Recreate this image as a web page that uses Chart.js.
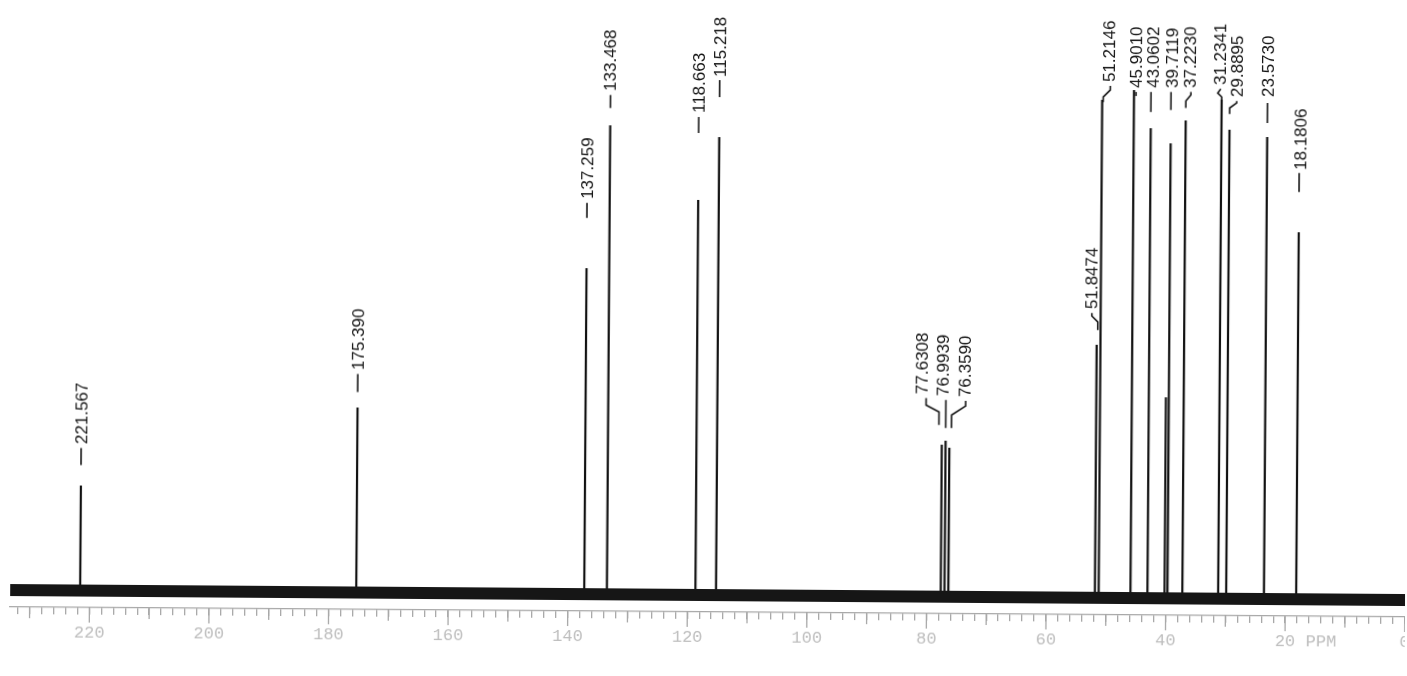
<!DOCTYPE html>
<html>
<head>
<meta charset="utf-8">
<script src="https://cdn.jsdelivr.net/npm/chart.js@4.4.0/dist/chart.umd.min.js"></script>
<style>
    html, body { margin: 0; padding: 0; background: #fff; overflow: hidden; }
    /* the scanned sheet sits slightly skewed, right side lower */
    #sheet { width: 1407px; height: 676px; transform: rotate(0.41deg); }
</style>
</head>
<body>
<div id="sheet"><canvas id="spectrum" width="1407" height="676"></canvas></div>
<script>
(function () {
    // --- Data (13C spectrum, ppm / peak height) ---
    const shiftsPpm = [221.567, 175.390, 137.259, 133.468, 118.663, 115.218,
        77.6308, 76.9939, 76.3590, 51.8474, 51.2146, 45.9010, 43.0602, 40.20,
        39.7119, 37.2230, 31.2341, 29.8895, 23.5730, 18.1806];
    const intensities = [105, 185, 326, 469, 395, 458,
        152, 156, 149, 253, 498, 508, 470, 201,
        455, 478, 499, 469, 462, 367];
    const peakLabels = ['221.567', '175.390', '137.259', '133.468', '118.663', '115.218',
        '77.6308', '76.9939', '76.3590', '51.8474', '51.2146', '45.9010', '43.0602', '',
        '39.7119', '37.2230', '31.2341', '29.8895', '23.5730', '18.1806'];
    const axisLabels = [0, 20, 40, 60, 80, 100, 120, 140, 160, 180, 200, 220];
    const AXIS_MIN = -0.05;
    const AXIS_MAX = 233.27;

    // --- Label layout: text centre offset, text bottom y, leader polyline [dx, y] ---
    const labelLayout = [
        { dx: 0, bottom: 444, leader: [[0, 448], [0, 465]] },
        { dx: 0, bottom: 370, leader: [[0, 374], [0, 392]] },
        { dx: 0, bottom: 199, leader: [[0, 203], [0, 218]] },
        { dx: 0, bottom: 91, leader: [[0, 95], [0, 108]] },
        { dx: 0, bottom: 113, leader: [[0, 117], [0, 133]] },
        { dx: 0, bottom: 77, leader: [[0, 80], [0, 97]] },
        { dx: -20, bottom: 394, leader: [[-16, 398], [-16, 405], [-3, 412], [-3, 425]] },
        { dx: -3, bottom: 396, leader: [[0, 400], [0, 428]] },
        { dx: 15, bottom: 397, leader: [[16, 401], [16, 406], [2, 415], [2, 428]] },
        { dx: -5, bottom: 309, leader: [[-5, 313], [-5, 316], [1, 322], [1, 330]] },
        { dx: 7, bottom: 82, leader: [[8, 86], [8, 90], [1, 97], [1, 102]] },
        { dx: 2, bottom: 88, leader: [[2, 92], [2, 96]] },
        { dx: 2, bottom: 88, leader: [[0, 92], [0, 112]] },
        null,
        { dx: 1, bottom: 88, leader: [[0, 92], [0, 110]] },
        { dx: 4, bottom: 88, leader: [[5, 92], [5, 95], [0, 101], [0, 108]] },
        { dx: -2, bottom: 85, leader: [[-1, 89], [-4, 93], [0, 97], [0, 100]] },
        { dx: 7, bottom: 97, leader: [[7, 101], [7, 103], [0, 108], [0, 114]] },
        { dx: 1, bottom: 97, leader: [[0, 103], [0, 123]] },
        { dx: 1, bottom: 170, leader: [[0, 173], [0, 192]] }
    ];

    const TILT = Math.tan(0.41 * Math.PI / 180);
    function untilt(x, y) {
        return y - (x - 703) * TILT;
    }

    const peakPoints = [];
    shiftsPpm.forEach((p, i) => {
        peakPoints.push({ x: p, y: 0 }, { x: p, y: intensities[i] }, { x: p, y: 0 });
    });

    // --- Plugins ---
    const rulerPlugin = {
        id: 'ruler',
        afterDraw(chart) {
            const xs = chart.scales.x;
            const ctx = chart.ctx;
            const y0 = chart.chartArea.bottom;
            ctx.save();
            ctx.strokeStyle = '#a8a8a8';
            ctx.lineWidth = 1.3;
            xs.ticks.forEach(t => {
                if (t.value % 10 !== 0) return;
                const len = t.value % 20 === 0 ? 15 : 11;
                const x = xs.getPixelForValue(t.value);
                ctx.beginPath();
                ctx.moveTo(x, y0);
                ctx.lineTo(x, y0 + len);
                ctx.stroke();
            });
            ctx.fillStyle = '#bdbdbd';
            ctx.font = '17px "Liberation Mono"';
            ctx.textAlign = 'center';
            ctx.textBaseline = 'middle';
            ctx.fillText('PPM', xs.getPixelForValue(20) + 36, y0 + 25);
            ctx.restore();
        }
    };

    const peakLabelPlugin = {
        id: 'peakLabels',
        afterDatasetsDraw(chart) {
            const xs = chart.scales.x;
            const ctx = chart.ctx;
            ctx.save();
            ctx.strokeStyle = '#151515';
            ctx.fillStyle = '#151515';
            ctx.lineWidth = 1.6;
            ctx.font = '17px "Liberation Sans"';
            peakLabels.forEach((txt, i) => {
                const lay = labelLayout[i];
                if (!txt || !lay) return;
                const px = xs.getPixelForValue(shiftsPpm[i]);
                ctx.beginPath();
                lay.leader.forEach(([dx, y], j) => {
                    const x = px + dx;
                    if (j === 0) ctx.moveTo(x, untilt(x, y));
                    else ctx.lineTo(x, untilt(x, y));
                });
                ctx.stroke();
                const tx = px + lay.dx;
                ctx.save();
                ctx.translate(tx, untilt(tx, lay.bottom));
                ctx.rotate(-Math.PI / 2);
                ctx.textAlign = 'left';
                ctx.textBaseline = 'middle';
                ctx.fillText(txt, 0, 1);
                ctx.restore();
            });
            ctx.restore();
        }
    };

    // --- Chart ---
    const ctx = document.getElementById('spectrum').getContext('2d');
    new Chart(ctx, {
        type: 'line',
        data: {
            datasets: [
                {
                    // noisy baseline band
                    data: [{ x: AXIS_MAX, y: 0 }, { x: AXIS_MIN, y: 0 }],
                    borderColor: '#161616',
                    borderWidth: 12,
                    pointRadius: 0
                },
                {
                    data: peakPoints,
                    borderColor: '#111',
                    borderWidth: 2.2,
                    pointRadius: 0,
                    tension: 0
                }
            ]
        },
        options: {
            responsive: false,
            animation: false,
            events: [],
            layout: { padding: { left: 12, right: 0, top: 0, bottom: 0 } },
            plugins: { legend: { display: false }, tooltip: { enabled: false } },
            scales: {
                x: {
                    type: 'linear',
                    reverse: true,
                    min: AXIS_MIN,
                    max: AXIS_MAX,
                    afterBuildTicks(scale) {
                        const ticks = [];
                        for (let v = 0; v <= 232; v += 2) ticks.push({ value: v });
                        scale.ticks = ticks;
                    },
                    afterFit(scale) {
                        scale.height = 64;
                        scale.paddingLeft = 0;
                        scale.paddingRight = 0;
                    },
                    grid: { drawOnChartArea: false, color: '#a8a8a8', tickLength: 7, lineWidth: 1.3 },
                    border: { color: '#a8a8a8', width: 1.3 },
                    ticks: {
                        autoSkip: false,
                        maxRotation: 0,
                        padding: 8,
                        color: '#bdbdbd',
                        font: { family: 'Liberation Mono', size: 17 },
                        callback: v => axisLabels.includes(v) ? String(v) : ''
                    }
                },
                y: { display: false, min: -17, max: 595 }
            }
        },
        plugins: [rulerPlugin, peakLabelPlugin]
    });
})();
</script>
</body>
</html>
